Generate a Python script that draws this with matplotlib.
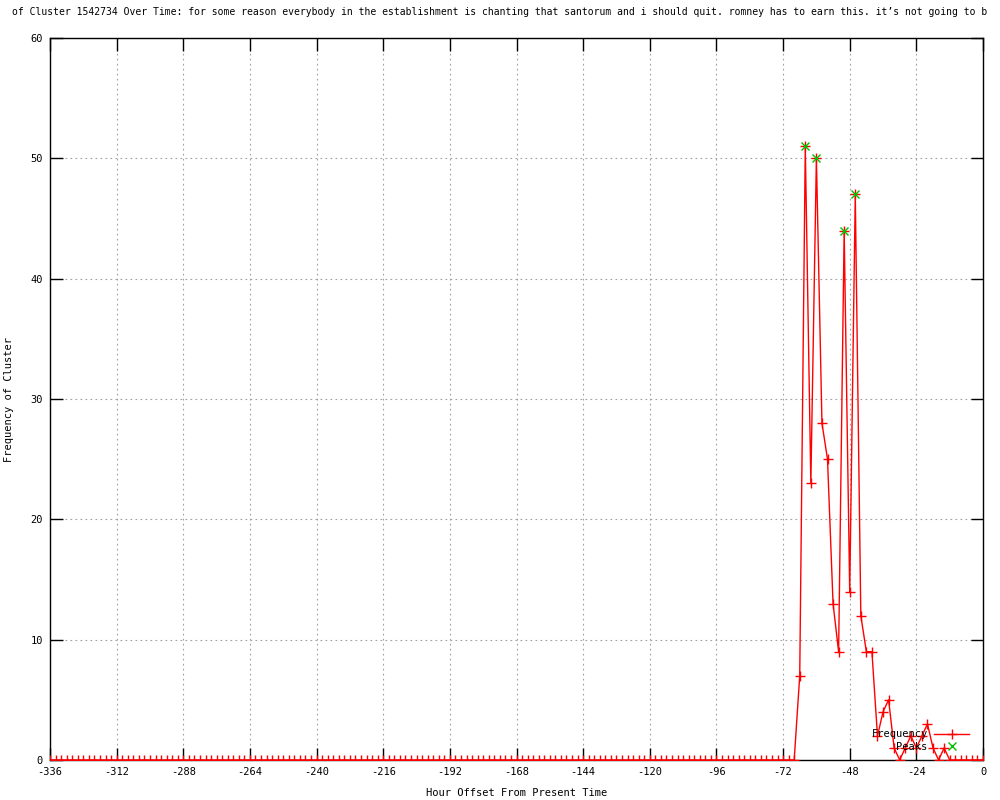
import matplotlib
matplotlib.use("Agg")
import matplotlib.pyplot as plt
import numpy as np

plt.rcParams['font.family'] = ['DejaVu Sans Mono']
plt.rcParams['axes.unicode_minus'] = False

title_text = ("of Cluster 1542734 Over Time: for some reason everybody in the establishment "
              "is chanting that santorum and i should quit. romney has to earn this. "
              "it\u2019s not going to b")
x_label = "Hour Offset From Present Time"
y_label = "Frequency of Cluster"

hours = list(range(-336, 1, 2))
frequency = [
    0, 0, 0, 0, 0, 0, 0, 0, 0, 0, 0, 0,   # -336 .. -314
    0, 0, 0, 0, 0, 0, 0, 0, 0, 0, 0, 0,   # -312 .. -290
    0, 0, 0, 0, 0, 0, 0, 0, 0, 0, 0, 0,   # -288 .. -266
    0, 0, 0, 0, 0, 0, 0, 0, 0, 0, 0, 0,   # -264 .. -242
    0, 0, 0, 0, 0, 0, 0, 0, 0, 0, 0, 0,   # -240 .. -218
    0, 0, 0, 0, 0, 0, 0, 0, 0, 0, 0, 0,   # -216 .. -194
    0, 0, 0, 0, 0, 0, 0, 0, 0, 0, 0, 0,   # -192 .. -170
    0, 0, 0, 0, 0, 0, 0, 0, 0, 0, 0, 0,   # -168 .. -146
    0, 0, 0, 0, 0, 0, 0, 0, 0, 0, 0, 0,   # -144 .. -122
    0, 0, 0, 0, 0, 0, 0, 0, 0, 0, 0, 0,   # -120 .. -98
    0, 0, 0, 0, 0, 0, 0, 0, 0, 0, 0, 0,   # -96 .. -74
    0, 0, 0,                              # -72 .. -68
    7, 51, 23, 50, 28, 25, 13, 9, 44, 14, 47, 12,   # -66 .. -44
    9, 9, 2, 4, 5, 1, 0, 1, 2, 1, 2, 3,             # -42 .. -20
    1, 0, 1, 0, 0, 0, 0, 0, 0, 0,                   # -18 .. 0
]
peak_hours = [-64, -60, -50, -46]
peak_values = [51, 50, 44, 47]

x_ticks = list(range(-336, 1, 24))
y_ticks = list(range(0, 61, 10))

fig = plt.figure(figsize=(10, 8), dpi=100)
ax = fig.add_axes([0.05, 0.05, 0.933, 0.9025])

ax.plot(hours, frequency, color='#ff0000', lw=1.0, marker='+', ms=7, mew=1.0,
        label='Frequency', zorder=3)
ax.plot(peak_hours, peak_values, ls='none', color='#00c000', marker='x', ms=6,
        mew=1.0, label='Peaks', zorder=4)

ax.set_xlim(-336, 0)
ax.set_ylim(0, 60)
ax.set_xticks(x_ticks)
ax.set_yticks(y_ticks)
ax.set_xticklabels([str(t) for t in x_ticks])
ax.set_yticklabels([str(t) for t in y_ticks])

ax.grid(True, color='#a0a0a0', ls=(0, (1.5, 3)), lw=0.8)
ax.tick_params(direction='in', length=9, width=1, top=True, right=True,
               labelsize=7.5, pad=5, color='black')
for s in ax.spines.values():
    s.set_linewidth(1.0)
    s.set_color('black')

ax.set_xlabel(x_label, fontsize=7.5, labelpad=8)
ax.set_ylabel(y_label, fontsize=7.5, labelpad=12)

fig.text(0.5, 0.985, title_text, ha='center', va='center', fontsize=7.0)

leg = ax.legend(loc='lower right', bbox_to_anchor=(0.991, 0.004), frameon=False,
                markerfirst=False, fontsize=7.5, handlelength=3.4,
                labelspacing=0.25, borderpad=0, handletextpad=0.6)

fig.savefig('out.png', dpi=100)
